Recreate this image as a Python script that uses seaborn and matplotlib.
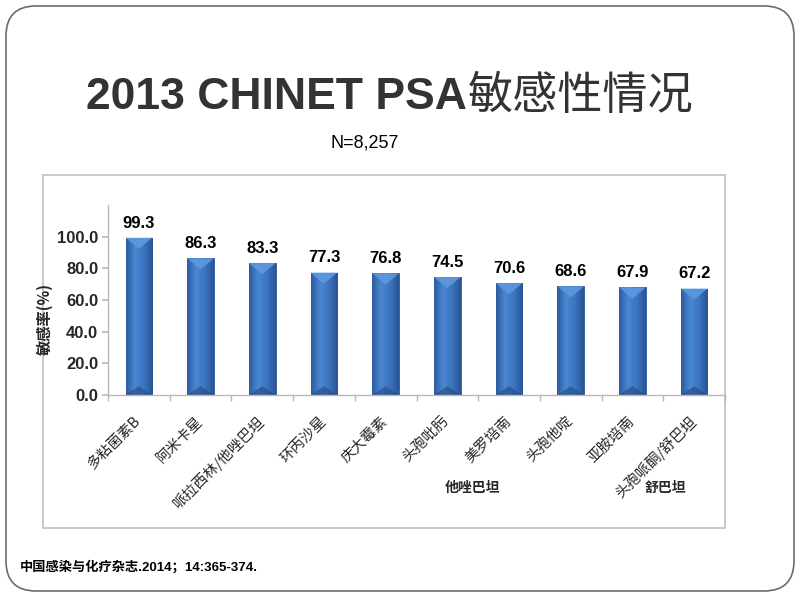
import matplotlib
matplotlib.use('Agg')
import matplotlib.pyplot as plt
import seaborn as sns
import numpy as np
import pandas as pd
from matplotlib.patches import FancyBboxPatch, Rectangle, Polygon
from matplotlib.colors import LinearSegmentedColormap

# ---- data ----
drugs = ['多粘菌素B', '阿米卡星', '哌拉西林/他唑巴坦', '环丙沙星', '庆大霉素',
         '头孢吡肟', '美罗培南', '头孢他啶', '亚胺培南', '头孢哌酮/舒巴坦']
rates = [99.3, 86.3, 83.3, 77.3, 76.8, 74.5, 70.6, 68.6, 67.9, 67.2]
yticks = [0, 20, 40, 60, 80, 100]
title_en = '2013 CHINET PSA'
title_cn = '敏感性情况'
subtitle = 'N=8,257'
ylabel = '敏感率(%)'
extra_labels = ['他唑巴坦', '舒巴坦']
source = '中国感染与化疗杂志.2014；14:365-374.'

sns.set_theme(style='white')
plt.rcParams['font.family'] = ['Liberation Sans', 'Noto Sans CJK SC', 'DejaVu Sans']
CJK = ['Noto Sans CJK SC', 'DejaVu Sans']

fig = plt.figure(figsize=(8, 6), dpi=100)
fig.patch.set_facecolor('white')

# background frame (pixel units)
bg = fig.add_axes([0, 0, 1, 1], zorder=0)
bg.set_xlim(0, 800)
bg.set_ylim(600, 0)
bg.axis('off')
bg.add_patch(FancyBboxPatch((6, 6), 788, 585,
                            boxstyle='round,pad=0,rounding_size=30',
                            fc='white', ec='#6b6b6b', lw=1.2))
bg.add_patch(Rectangle((43, 175), 682, 353, fc='white', ec='#c0c0c0', lw=1.2))

# main axes
ax = fig.add_axes([108 / 800, 1 - 395 / 600, (725 - 108) / 800, (395 - 205) / 600], zorder=2)
ax.patch.set_alpha(0)
df = pd.DataFrame({'drug': drugs, 'rate': rates})
sns.barplot(data=df, x='drug', y='rate', ax=ax, color='#3A72C0',
            width=0.43, saturation=1, edgecolor='#2B5894', linewidth=0.6)
ax.set_xlim(-0.5, len(drugs) - 0.5)
ax.set_ylim(0, 120)

# gradient shading on bars
cmap = LinearSegmentedColormap.from_list('bar', ['#2C5C9E', '#4A86D2', '#3C75C0', '#2A5494'])
grad = np.linspace(0, 1, 64).reshape(1, -1)
for p in list(ax.patches):
    x, y = p.get_x(), p.get_y()
    w, h = p.get_width(), p.get_height()
    im = ax.imshow(grad, extent=[x, x + w, y, y + h], aspect='auto', cmap=cmap,
                   origin='lower', zorder=p.get_zorder() + 0.1)
    im.set_clip_path(p)
    depth = 7.0
    ax.add_patch(Polygon([[x, y + h], [x + w, y + h], [x + w / 2, y + h - depth]],
                         closed=True, fc='#5D99E0', ec='none', alpha=0.9,
                         zorder=p.get_zorder() + 0.2))
    ax.add_patch(Polygon([[x, y], [x + w, y], [x + w / 2, y + depth * 0.8]],
                         closed=True, fc='#24497F', ec='none', alpha=0.6,
                         zorder=p.get_zorder() + 0.2))
    ax.text(x + w / 2, y + h + 4.5, f'{h:.1f}', ha='center', va='bottom',
            fontsize=12, fontweight='bold', color='black', zorder=5)

# axes styling
for s in ['top', 'right']:
    ax.spines[s].set_visible(False)
for s in ['left', 'bottom']:
    ax.spines[s].set_color('#b8b8b8')
    ax.spines[s].set_linewidth(1.0)

ax.set_yticks(yticks)
ax.set_yticklabels([f'{v:.1f}' for v in yticks], fontsize=12, fontweight='bold')
ax.tick_params(axis='y', direction='out', length=4, color='#b8b8b8', pad=3, left=True)

ax.set_xticks(range(len(drugs)))
ax.set_xticks(np.arange(-0.5, len(drugs), 1.0), minor=True)
ax.tick_params(axis='x', which='major', length=0, pad=17)
ax.tick_params(axis='x', which='minor', direction='out', length=4, color='#b8b8b8', bottom=True)
ax.set_xticklabels(drugs, rotation=45, ha='right', va='center', rotation_mode='anchor',
                   fontsize=10.5, family=CJK)
ax.set_xlabel('')
ax.set_ylabel(ylabel, fontsize=11, fontweight='bold', family=CJK)
ax.yaxis.set_label_coords(-0.09, 0.40)

# titles and extra texts
fig.text(467 / 800, 1 - 109 / 600, title_en, ha='right', va='baseline',
         fontsize=32, fontweight='bold', color='#333333', family=['Liberation Sans'])
fig.text(468 / 800, 1 - 109 / 600, title_cn, ha='left', va='baseline',
         fontsize=32.5, fontweight='normal', color='#333333', family=CJK)
fig.text(365 / 800, 1 - 143 / 600, subtitle, ha='center', va='center',
         fontsize=13, color='black', family=['Liberation Sans'])
fig.text(473 / 800, 1 - 488 / 600, extra_labels[0], ha='center', va='center',
         fontsize=10, fontweight='bold', family=CJK)
fig.text(665 / 800, 1 - 488 / 600, extra_labels[1], ha='center', va='center',
         fontsize=10, fontweight='bold', family=CJK)
fig.text(20 / 800, 1 - 567 / 600, source, ha='left', va='center',
         fontsize=9.5, fontweight='bold', color='black')

fig.savefig('out.png', dpi=100)
